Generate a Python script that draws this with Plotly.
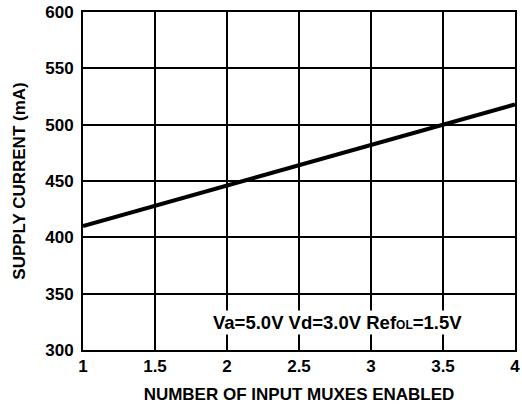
import plotly.graph_objects as go

# Supply current vs. number of enabled input muxes
muxes = [1, 4]
supply_current_ma = [410, 518]

x_ticks = [1, 1.5, 2, 2.5, 3, 3.5, 4]
x_tick_text = ["1", "1.5", "2", "2.5", "3", "3.5", "4"]
y_ticks = [300, 350, 400, 450, 500, 550, 600]
y_tick_text = ["300", "350", "400", "450", "500", "550", "600"]

FAMILY = "Liberation Sans, Arial, sans-serif"
font = dict(family=FAMILY, size=17, color="black", weight="bold")

fig = go.Figure()
fig.add_trace(go.Scatter(
    x=muxes, y=supply_current_ma, mode="lines",
    line=dict(color="black", width=4), showlegend=False,
))

fig.add_annotation(
    x=2.77, y=324.5, xref="x", yref="y",
    text="Va=5.0V Vd=3.0V Ref<span style='font-size:12px'>OL</span>=1.5V",
    showarrow=False, bgcolor="white", font=dict(font, size=18.5),
)

axis_common = dict(
    showgrid=True, gridcolor="black", gridwidth=2,
    showline=True, linecolor="black", linewidth=2, mirror=True,
    zeroline=False, ticks="", tickfont=font, automargin=False,
)

fig.update_xaxes(
    range=[1, 4], tickvals=x_ticks, ticktext=x_tick_text,
    ticklabelstandoff=0,
    title=dict(text="NUMBER OF INPUT MUXES ENABLED", font=font, standoff=13),
    **axis_common,
)
fig.update_yaxes(
    range=[300, 600], tickvals=y_ticks, ticktext=y_tick_text,
    ticklabelstandoff=4,
    title=dict(text="SUPPLY CURRENT (mA)", font=font, standoff=15),
    **axis_common,
)

fig.update_layout(
    width=522, height=406,
    margin=dict(l=83, r=7, t=12, b=56),
    paper_bgcolor="white", plot_bgcolor="white",
    font=font,
)

fig.write_html("out.html")
